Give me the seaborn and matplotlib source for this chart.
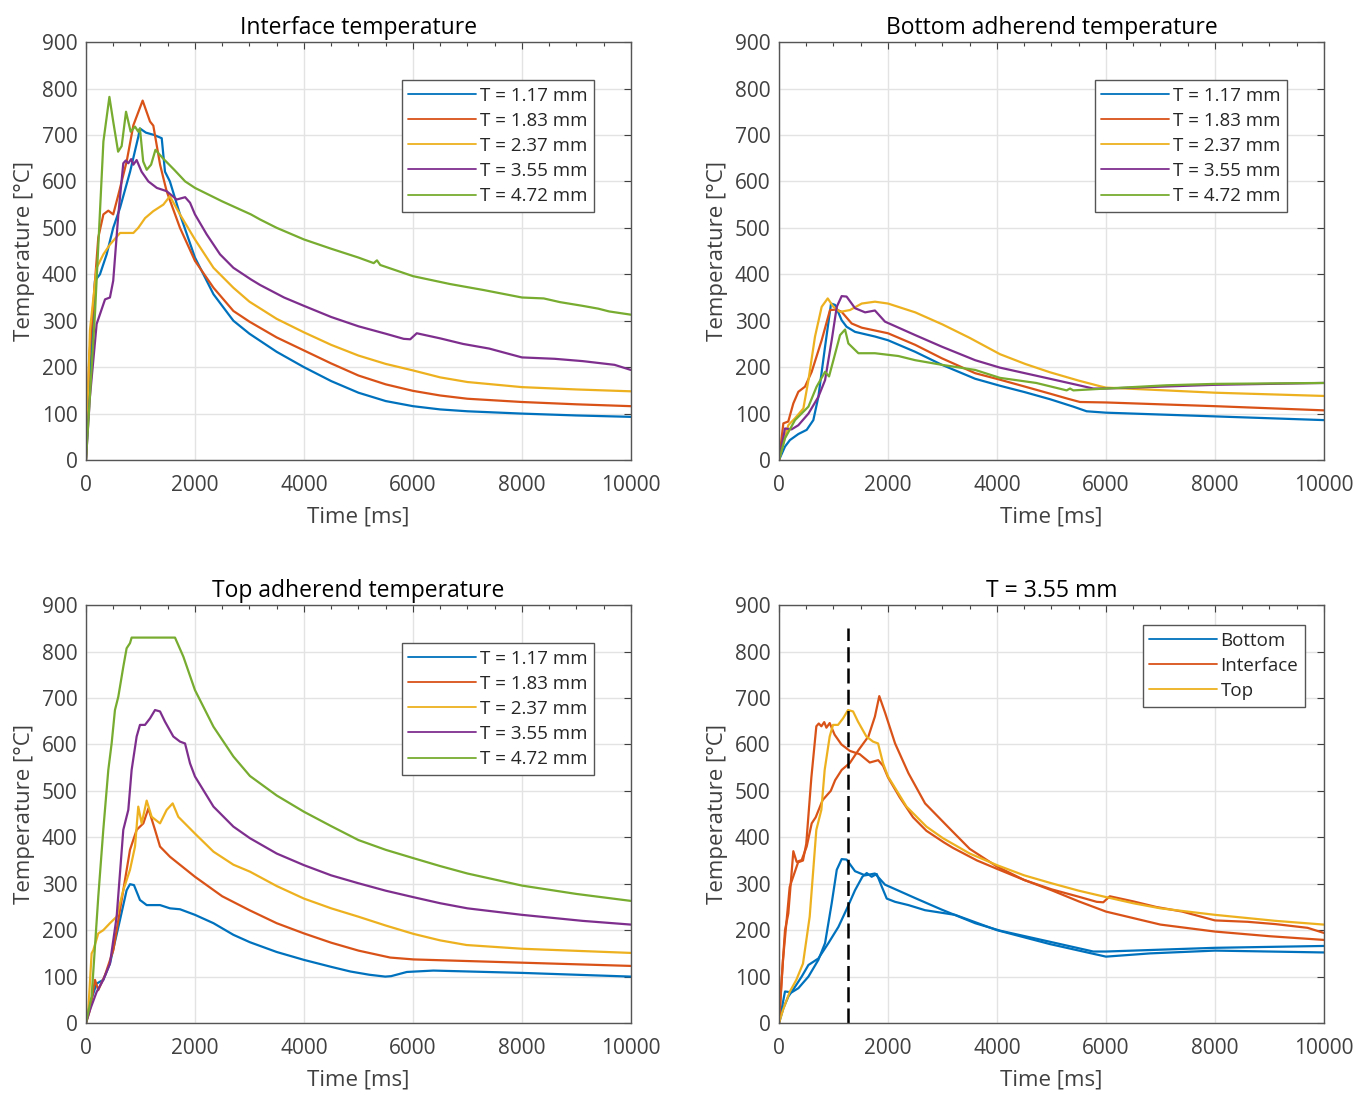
import pandas as pd
import numpy as np
import seaborn as sns
from matplotlib import pyplot as plt
from matplotlib.ticker import MultipleLocator

# ---- interface temperature (top left) ----
iface_117_t = [0, 165, 257, 380, 500, 625, 810, 960, 990, 1100, 1250, 1390, 1450, 1540, 1725, 2000, 2340,
               2705, 3000, 3500, 4000, 4500, 5000, 5500, 6000, 6500, 7000, 8000, 9000, 10000]
iface_117 = [0, 386, 400, 443, 500, 543, 621, 696, 714, 705, 700, 693, 621, 600, 529, 436, 357,
             300, 272, 233, 200, 170, 145, 127, 116, 109, 105, 100, 96, 93]
iface_183_t = [0, 60, 226, 320, 410, 500, 594, 747, 870, 1040, 1175, 1236, 1360, 1480, 1725, 2000, 2340,
               2705, 3000, 3500, 4000, 4500, 5000, 5500, 6000, 6500, 7000, 8000, 9000, 10000]
iface_183 = [0, 220, 479, 529, 537, 529, 571, 643, 721, 774, 729, 720, 636, 579, 500, 429, 371,
             321, 298, 264, 236, 208, 182, 163, 149, 139, 132, 125, 120, 116]
iface_237_t = [0, 73, 196, 320, 440, 625, 870, 960, 1085, 1236, 1420, 1540, 1725, 2000, 2340, 2705, 3000,
               3500, 4000, 4500, 5000, 5500, 6000, 6500, 7000, 8000, 9000, 10000]
iface_237 = [0, 279, 414, 443, 464, 489, 489, 500, 521, 536, 550, 568, 529, 475, 414, 371, 341,
             304, 275, 248, 225, 207, 193, 178, 168, 157, 152, 148]
iface_355_t = [0, 73, 196, 350, 440, 500, 594, 685, 730, 777, 830, 870, 930, 1020, 1145, 1300, 1480, 1665,
               1820, 1910, 2000, 2215, 2460, 2705, 3026, 3195, 3635, 4000, 4500, 5000, 5500, 5830, 5950,
               6070, 6500, 6920, 7400, 8000, 8600, 9115, 9700, 10000]
iface_355 = [0, 136, 293, 346, 350, 386, 529, 639, 645, 639, 648, 636, 646, 621, 600, 586, 579, 561,
             566, 554, 529, 486, 443, 414, 389, 377, 350, 332, 308, 288, 272, 261, 260,
             273, 262, 250, 240, 221, 218, 213, 205, 194]
iface_472_t = [0, 165, 320, 430, 500, 590, 655, 735, 820, 900, 960, 990, 1050, 1115, 1195, 1275, 1410,
               1620, 1820, 2000, 2500, 3026, 3195, 3500, 4000, 4500, 5000, 5280, 5340, 5400, 6000,
               6680, 7300, 8000, 8400, 8700, 9115, 9400, 9600, 10000]
iface_472 = [0, 314, 686, 782, 729, 664, 676, 750, 707, 718, 707, 714, 643, 625, 636, 668, 650,
             625, 600, 586, 557, 529, 518, 500, 475, 455, 436, 424, 430, 420, 396,
             379, 366, 350, 348, 340, 332, 326, 320, 313]

# ---- bottom adherend temperature (top right) ----
bot_117_t = [0, 110, 200, 355, 508, 630, 722, 845, 955, 1030, 1150, 1240, 1395, 1760, 2000, 2500, 2990,
             3600, 4054, 4516, 4972, 5400, 5645, 6000, 8000, 10000]
bot_117 = [0, 29, 43, 56, 65, 86, 136, 244, 337, 334, 301, 287, 276, 266, 258, 233, 205,
           175, 160, 146, 131, 115, 105, 102, 94, 86]
bot_183_t = [0, 80, 170, 263, 355, 477, 600, 783, 936, 1060, 1150, 1334, 1518, 2000, 2500, 2990, 3600,
             4054, 4516, 4972, 5300, 5523, 6000, 8000, 10000]
bot_183 = [0, 79, 83, 122, 147, 158, 190, 258, 323, 324, 319, 294, 285, 273, 248, 219, 187,
           173, 158, 143, 132, 125, 124, 116, 107]
bot_237_t = [0, 170, 294, 447, 540, 661, 783, 894, 998, 1120, 1303, 1518, 1760, 2000, 2500, 3000, 3500,
             4054, 4516, 4972, 5500, 5890, 6000, 8000, 10000]
bot_237 = [0, 75, 90, 111, 172, 266, 330, 348, 330, 319, 323, 337, 341, 337, 318, 292, 263,
           228, 207, 189, 171, 159, 156, 145, 138]
bot_355_t = [0, 110, 230, 355, 540, 722, 845, 967, 1060, 1150, 1240, 1395, 1580, 1760, 1945, 2500, 2990,
             3600, 4054, 4972, 5767, 6000, 8000, 10000]
bot_355 = [0, 68, 66, 75, 100, 136, 172, 258, 330, 353, 352, 327, 318, 322, 298, 269, 244,
           215, 199, 175, 154, 154, 162, 166]
bot_472_t = [0, 110, 294, 540, 690, 845, 918, 998, 1120, 1212, 1273, 1457, 1760, 2190, 2500, 2990, 3600,
             4054, 4720, 5278, 5340, 5400, 6000, 7114, 8000, 10000]
bot_472 = [0, 47, 86, 115, 158, 190, 180, 215, 269, 281, 251, 230, 230, 224, 215, 205, 194,
           177, 166, 150, 154, 150, 154, 161, 164, 166]

# ---- top adherend temperature (bottom left) ----
top_117_t = [0, 73, 196, 318, 440, 624, 746, 808, 881, 991, 1114, 1359, 1542, 1726, 2000, 2340, 2705,
             3009, 3500, 4000, 4500, 4852, 5200, 5492, 5600, 5888, 6375, 8000, 10000]
top_117 = [0, 42, 85, 93, 128, 222, 286, 299, 297, 265, 254, 254, 247, 245, 233, 215, 190,
           174, 153, 136, 121, 111, 104, 100, 101, 110, 113, 108, 100]
top_183_t = [0, 73, 165, 226, 349, 502, 624, 808, 930, 1053, 1145, 1267, 1359, 1542, 2000, 2500, 3000,
             3500, 4000, 4500, 5000, 5583, 6010, 8000, 10000]
top_183 = [0, 28, 93, 71, 103, 157, 243, 373, 416, 430, 462, 416, 380, 358, 315, 273, 243,
           215, 193, 173, 156, 141, 137, 130, 123]
top_237_t = [0, 43, 104, 135, 226, 318, 440, 563, 685, 808, 900, 960, 1022, 1114, 1206, 1359, 1481,
             1591, 1695, 2000, 2340, 2705, 3009, 3500, 4000, 4500, 5000, 5500, 6010, 6500, 6984, 8000,
             10000]
top_237 = [0, 28, 150, 157, 193, 200, 215, 229, 286, 330, 380, 466, 430, 479, 444, 430, 459,
           473, 444, 408, 369, 341, 326, 295, 268, 247, 229, 210, 192, 178, 168, 160, 151]
top_355_t = [0, 73, 196, 318, 440, 563, 685, 777, 838, 930, 991, 1083, 1175, 1267, 1359, 1450, 1603,
             1726, 1818, 1910, 2000, 2340, 2705, 3009, 3500, 4000, 4500, 5000, 5500, 6010, 6500, 7000,
             8000, 9115, 10000]
top_355 = [0, 28, 67, 93, 128, 229, 416, 459, 545, 617, 642, 642, 656, 674, 671, 649, 617,
           606, 602, 559, 531, 466, 423, 398, 365, 340, 318, 301, 285, 271, 258, 247,
           233, 220, 212]
top_472_t = [0, 104, 226, 318, 410, 471, 532, 594, 685, 746, 808, 838, 1634, 1787, 2000, 2340, 2705,
             3009, 3500, 4000, 4500, 5000, 5500, 6010, 6500, 7000, 8000, 9000, 10000]
top_472 = [0, 57, 272, 416, 545, 602, 674, 703, 767, 807, 818, 830, 830, 789, 717, 638, 574,
           532, 490, 455, 424, 394, 373, 355, 338, 322, 296, 278, 263]

# ---- second bottom / interface curves of T = 3.55 mm (bottom right) ----
bottom_b_t = [0, 80, 171, 294, 416, 540, 722, 906, 1090, 1260, 1395, 1530, 1610, 1700, 1793, 1885, 1977,
              2130, 2375, 2680, 3230, 4000, 4973, 6000, 6810, 8000, 10000]
bottom_b = [0, 32, 57, 78, 100, 125, 139, 172, 207, 250, 286, 315, 323, 315, 321, 294, 268,
            261, 254, 243, 233, 200, 170, 143, 150, 156, 152]
iface_b_t = [0, 49, 110, 171, 263, 324, 416, 508, 600, 673, 800, 950, 1030, 1150, 1300, 1460, 1640, 1760,
             1840, 1950, 2130, 2375, 2680, 3138, 3500, 4000, 4500, 5000, 5500, 6000, 7000, 8000, 9000,
             10000]
iface_b = [0, 93, 200, 236, 370, 347, 351, 380, 430, 443, 480, 500, 523, 545, 560, 588, 617, 660,
           704, 667, 602, 538, 473, 418, 375, 337, 308, 286, 262, 240, 212, 197, 187, 179]
dash_time = 1260
dash_top = 850

thickness_labels = ['T = 1.17 mm', 'T = 1.83 mm', 'T = 2.37 mm', 'T = 3.55 mm', 'T = 4.72 mm']
location_labels = ['Bottom', 'Interface', 'Top']
matlab_colors = ['#0072BD', '#D95319', '#EDB120', '#7E2F8E', '#77AC30']


def panel_frame(series):
    parts = []
    for i, (label, t, temp) in enumerate(series):
        parts.append(pd.DataFrame({'time': t, 'temp': temp, 'label': label, 'curve': i}))
    return pd.concat(parts, ignore_index=True)


def style_axes(ax, title):
    ax.set_xlim(0, 10000)
    ax.set_ylim(0, 900)
    ax.xaxis.set_major_locator(MultipleLocator(2000))
    ax.xaxis.set_minor_locator(MultipleLocator(500))
    ax.yaxis.set_major_locator(MultipleLocator(100))
    ax.grid(True, which='major', color='#e3e3e3', linewidth=1.0)
    ax.grid(False, which='minor')
    ax.set_axisbelow(True)
    ax.tick_params(which='both', direction='in', top=True, right=True, colors='#404040',
                   labelsize=15, width=0.8)
    ax.tick_params(which='major', length=5)
    ax.tick_params(axis='x', which='major', pad=11)
    ax.tick_params(axis='y', which='major', pad=6)
    ax.tick_params(which='minor', length=3)
    for sp in ax.spines.values():
        sp.set_visible(True)
        sp.set_color('#555555')
        sp.set_linewidth(1.0)
    ax.set_xlabel('Time [ms]', fontsize=16, color='#404040', labelpad=7)
    ax.set_ylabel('Temperature [°C]', fontsize=16, color='#404040', labelpad=5)
    ax.set_title(title, fontsize=16.5, color='black', pad=6)


def draw_panel(ax, series, labels, colors, title, anchor):
    df = panel_frame(series)
    sns.lineplot(data=df, x='time', y='temp', hue='label', units='curve', estimator=None,
                 hue_order=labels, palette=colors, sort=False, linewidth=1.6, ax=ax)
    style_axes(ax, title)
    sns.move_legend(ax, 'upper right', bbox_to_anchor=anchor, title=None, frameon=True,
                    fancybox=False, framealpha=1, edgecolor='#555555', fontsize=13.5,
                    handlelength=3.6, handletextpad=0.2, labelspacing=0.38, borderpad=0.35,
                    borderaxespad=0)
    leg = ax.get_legend()
    leg.get_frame().set_linewidth(1.0)
    for line in leg.get_lines():
        line.set_linewidth(1.3)


sns.set_theme(style='white')
plt.rcParams['font.family'] = ['Open Sans', 'DejaVu Sans']

fig = plt.figure(figsize=(13.71, 10.93), dpi=100)
w, h = 0.3975, 0.3824
ax_tl = fig.add_axes([0.0627, 0.5791, w, h])
ax_tr = fig.add_axes([0.5682, 0.5791, w, h])
ax_bl = fig.add_axes([0.0627, 0.0640, w, h])
ax_br = fig.add_axes([0.5682, 0.0640, w, h])

draw_panel(ax_tl, [(thickness_labels[0], iface_117_t, iface_117),
                   (thickness_labels[1], iface_183_t, iface_183),
                   (thickness_labels[2], iface_237_t, iface_237),
                   (thickness_labels[3], iface_355_t, iface_355),
                   (thickness_labels[4], iface_472_t, iface_472)],
           thickness_labels, matlab_colors, 'Interface temperature', (0.932, 0.909))

draw_panel(ax_tr, [(thickness_labels[0], bot_117_t, bot_117),
                   (thickness_labels[1], bot_183_t, bot_183),
                   (thickness_labels[2], bot_237_t, bot_237),
                   (thickness_labels[3], bot_355_t, bot_355),
                   (thickness_labels[4], bot_472_t, bot_472)],
           thickness_labels, matlab_colors, 'Bottom adherend temperature', (0.932, 0.909))

draw_panel(ax_bl, [(thickness_labels[0], top_117_t, top_117),
                   (thickness_labels[1], top_183_t, top_183),
                   (thickness_labels[2], top_237_t, top_237),
                   (thickness_labels[3], top_355_t, top_355),
                   (thickness_labels[4], top_472_t, top_472)],
           thickness_labels, matlab_colors, 'Top adherend temperature', (0.932, 0.909))

draw_panel(ax_br, [(location_labels[0], bot_355_t, bot_355),
                   (location_labels[0], bottom_b_t, bottom_b),
                   (location_labels[1], iface_355_t, iface_355),
                   (location_labels[1], iface_b_t, iface_b),
                   (location_labels[2], top_355_t, top_355)],
           location_labels, matlab_colors[:3], 'T = 3.55 mm', (0.965, 0.952))
ax_br.plot([dash_time, dash_time], [0, dash_top], color='black', linewidth=1.8,
           linestyle=(0, (6, 2.5)))

fig.savefig('out.png', dpi=100)
